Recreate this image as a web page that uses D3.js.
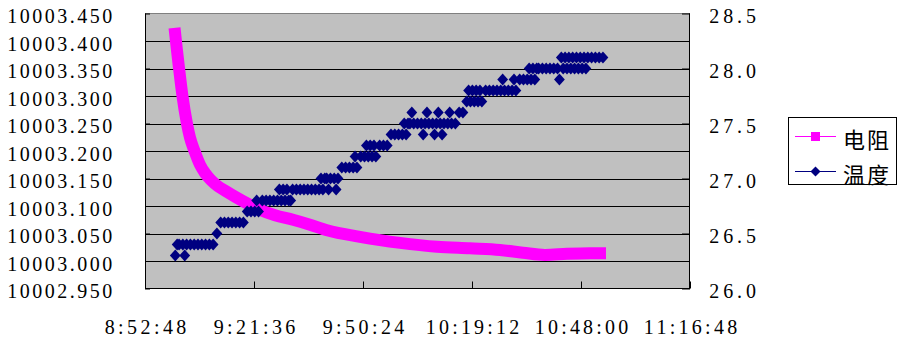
<!DOCTYPE html>
<html><head><meta charset="utf-8">
<script src="https://cdn.jsdelivr.net/npm/d3@7"></script>
<style>body{margin:0;background:#fff}svg{display:block}
.num{font-family:"Liberation Serif","Times New Roman","DejaVu Serif",serif;font-size:20px}
.cjk{font-family:"Noto Sans CJK SC","Noto Sans CJK JP",sans-serif;font-size:22px}
</style>
</head><body><svg id="c" width="898" height="352"></svg>
<script>
// ---- data ----
const xTickLabels = ["8:52:48","9:21:36","9:50:24","10:19:12","10:48:00","11:16:48"];
const leftTickValues = [10002.95,10003.00,10003.05,10003.10,10003.15,10003.20,10003.25,10003.30,10003.35,10003.40,10003.45];
const rightTickValues = [26.0,26.5,27.0,27.5,28.0,28.5];
const seriesNames = ["电阻","温度"];

const resistancePoints = [
  ["9:00:36",10003.424],["9:01:14",10003.384],["9:01:47",10003.351],["9:02:42",10003.300],
  ["9:03:51",10003.251],["9:04:42",10003.224],["9:05:53",10003.200],["9:07:20",10003.175],
  ["9:08:39",10003.160],["9:10:14",10003.147],["9:12:05",10003.136],["9:13:56",10003.128],
  ["9:16:51",10003.116],["9:20:33",10003.102],["9:23:11",10003.093],["9:27:09",10003.083],
  ["9:31:54",10003.075],["9:36:24",10003.066],["9:40:53",10003.056],["9:49:36",10003.044],
  ["9:54:54",10003.038],["10:00:11",10003.033],["10:09:57",10003.026],["10:18:40",10003.023],
  ["10:26:36",10003.020],["10:32:40",10003.015],["10:38:29",10003.011],["10:44:18",10003.013],
  ["10:50:23",10003.014],["10:54:36",10003.014]
];

const temperaturePoints = [
  ["9:00:48",26.3],["9:01:18",26.4],["9:01:48",26.4],["9:02:48",26.4],["9:03:18",26.3],["9:03:48",26.4],
  ["9:04:48",26.4],["9:05:48",26.4],["9:06:48",26.4],["9:07:48",26.4],["9:08:48",26.4],["9:09:48",26.4],
  ["9:10:48",26.4],["9:11:48",26.5],["9:12:48",26.6],["9:13:48",26.6],["9:14:48",26.6],["9:15:48",26.6],
  ["9:16:48",26.6],["9:17:48",26.6],["9:18:48",26.6],["9:19:48",26.7],["9:20:48",26.7],["9:21:48",26.7],
  ["9:22:18",26.8],["9:22:48",26.7],["9:23:48",26.8],["9:24:48",26.8],["9:25:48",26.8],["9:26:48",26.8],
  ["9:27:48",26.8],["9:28:18",26.9],["9:28:48",26.8],["9:29:18",26.9],["9:29:48",26.8],["9:30:18",26.9],
  ["9:30:48",26.8],["9:31:18",26.8],["9:31:48",26.9],["9:32:48",26.9],["9:33:48",26.9],["9:34:48",26.9],
  ["9:35:48",26.9],["9:36:48",26.9],["9:37:48",26.9],["9:38:48",26.9],["9:39:18",27.0],["9:39:48",26.9],
  ["9:40:18",27.0],["9:40:48",27.0],["9:41:18",26.9],["9:41:48",27.0],["9:42:48",27.0],["9:43:18",26.9],
  ["9:43:48",27.0],["9:44:48",27.1],["9:45:48",27.1],["9:46:48",27.1],["9:47:48",27.1],["9:48:18",27.2],
  ["9:48:48",27.1],["9:49:48",27.2],["9:50:48",27.2],["9:51:18",27.3],["9:51:48",27.2],["9:52:18",27.3],
  ["9:52:48",27.2],["9:53:18",27.3],["9:53:48",27.2],["9:54:48",27.3],["9:55:48",27.3],["9:56:48",27.3],
  ["9:57:48",27.4],["9:58:48",27.4],["9:59:48",27.4],["10:00:48",27.4],["10:01:18",27.5],["10:01:48",27.4],
  ["10:02:18",27.5],["10:02:48",27.5],["10:03:18",27.6],["10:03:48",27.5],["10:04:48",27.5],["10:05:48",27.5],
  ["10:06:18",27.4],["10:06:48",27.5],["10:07:18",27.6],["10:07:48",27.5],["10:08:48",27.5],["10:09:18",27.4],
  ["10:09:48",27.5],["10:10:18",27.6],["10:10:48",27.5],["10:11:18",27.4],["10:11:48",27.5],["10:12:48",27.5],
  ["10:13:18",27.6],["10:13:48",27.5],["10:14:48",27.5],["10:15:48",27.6],["10:16:48",27.6],["10:17:48",27.7],
  ["10:18:18",27.8],["10:18:48",27.7],["10:19:18",27.8],["10:19:48",27.7],["10:20:18",27.8],["10:20:48",27.7],
  ["10:21:18",27.8],["10:21:48",27.7],["10:22:48",27.8],["10:23:48",27.8],["10:24:48",27.8],["10:25:48",27.8],
  ["10:26:48",27.8],["10:27:18",27.9],["10:27:48",27.8],["10:28:48",27.8],["10:29:48",27.8],["10:30:18",27.9],
  ["10:30:48",27.8],["10:31:48",27.9],["10:32:48",27.9],["10:33:48",27.9],["10:34:18",28.0],["10:34:48",27.9],
  ["10:35:18",28.0],["10:35:48",27.9],["10:36:18",28.0],["10:36:48",28.0],["10:37:48",28.0],["10:38:48",28.0],
  ["10:39:48",28.0],["10:40:48",28.0],["10:41:48",28.0],["10:42:18",27.9],["10:42:48",28.1],["10:43:18",28.0],
  ["10:43:48",28.1],["10:44:18",28.0],["10:44:48",28.1],["10:45:18",28.0],["10:45:48",28.1],["10:46:18",28.0],
  ["10:46:48",28.1],["10:47:18",28.0],["10:47:48",28.1],["10:48:18",28.0],["10:48:48",28.1],["10:49:18",28.0],
  ["10:49:48",28.1],["10:50:48",28.1],["10:51:48",28.1],["10:52:48",28.1],["10:53:48",28.1]
];

// ---- layout ----
const L = 145, R = 690, T = 13.5, B = 288.5;
const MAGENTA = "#FF00FF", NAVY = "#000080";
const charW = 11.67;

const parse = d3.timeParse("%H:%M:%S");
const xTicks = xTickLabels.map(parse);
const x = d3.scaleTime().domain([xTicks[0], xTicks[xTicks.length-1]]).range([L, R]);
const yL = d3.scaleLinear().domain([leftTickValues[0], leftTickValues[leftTickValues.length-1]]).range([B, T]);
const yR = d3.scaleLinear().domain([rightTickValues[0], rightTickValues[rightTickValues.length-1]]).range([B, T]);

const svg = d3.select("#c");
svg.append("rect").attr("width",898).attr("height",352).attr("fill","#fff");

// plot area
svg.append("rect").attr("x",L).attr("y",T).attr("width",R-L).attr("height",B-T).attr("fill","#C0C0C0");

// gridlines
svg.append("g").selectAll("line").data(leftTickValues.slice(1,-1)).join("line")
  .attr("x1",L).attr("x2",R).attr("y1",d=>Math.round(yL(d))+0.5).attr("y2",d=>Math.round(yL(d))+0.5)
  .attr("stroke","#000").attr("stroke-width",1);

// border top
svg.append("line").attr("x1",L).attr("x2",R).attr("y1",T).attr("y2",T).attr("stroke","#808080");

// resistance series (dense square markers form a thick band)
const plot = svg.append("g");
const resLine = d3.line().x(d=>x(parse(d[0]))).y(d=>yL(d[1])).curve(d3.curveMonotoneX);
plot.append("path").attr("d",resLine(resistancePoints))
  .attr("fill","none").attr("stroke",MAGENTA).attr("stroke-width",12)
  .attr("stroke-linejoin","round").attr("stroke-linecap","butt");

// temperature series (diamond markers)
const diamond = "M0,-6L5.4,0L0,6L-5.4,0Z";
plot.append("g").selectAll("path").data(temperaturePoints).join("path")
  .attr("d",diamond)
  .attr("transform",d=>`translate(${x(parse(d[0]))},${yR(d[1])})`)
  .attr("fill",NAVY);

// axes
function styleText(sel){
  sel.attr("font-family",null).attr("font-size",null);
  sel.selectAll("text")
    .attr("class","num").attr("fill","#000")
    .style("font-family",'"Liberation Serif"')
    .attr("textLength",function(){return this.textContent.length*charW;})
    .attr("lengthAdjust","spacing");
}
const axL = svg.append("g").attr("transform",`translate(${L},0)`)
  .call(d3.axisLeft(yL).tickValues(leftTickValues).tickFormat(d3.format(".3f")).tickSize(-5).tickPadding(32.7));
axL.select(".domain").remove();
axL.selectAll("text").attr("dy",9.3);
styleText(axL);

const axR = svg.append("g").attr("transform",`translate(${R},0)`)
  .call(d3.axisRight(yR).tickValues(rightTickValues).tickFormat(d3.format(".1f")).tickSize(-8).tickPadding(19.3));
axR.select(".domain").remove();
axR.selectAll("text").attr("dy",9.3);
styleText(axR);

const axB = svg.append("g").attr("transform",`translate(0,${B})`)
  .call(d3.axisBottom(x).tickValues(xTicks).tickFormat(d3.timeFormat("%-H:%M:%S")).tickSize(-7).tickPadding(0));
axB.select(".domain").remove();
axB.selectAll("text").attr("y",45.5).attr("dy",0);
styleText(axB);
svg.selectAll(".tick line").attr("stroke","#000");

// axis lines
svg.append("line").attr("x1",L+0.5).attr("x2",L+0.5).attr("y1",T).attr("y2",B+0.5).attr("stroke","#000");
svg.append("line").attr("x1",R-0.5).attr("x2",R-0.5).attr("y1",T).attr("y2",B+0.5).attr("stroke","#000");
svg.append("line").attr("x1",L).attr("x2",R).attr("y1",B).attr("y2",B).attr("stroke","#000");

// legend
const lg = svg.append("g");
lg.append("rect").attr("x",788.5).attr("y",117.5).attr("width",108).attr("height",67)
  .attr("fill","#fff").attr("stroke","#000");
const legendRows = [
  {name:seriesNames[0], color:MAGENTA, y:136.5, shape:"M-4.5,-4.5h9v9h-9Z"},
  {name:seriesNames[1], color:NAVY, y:171.5, shape:"M0,-5L5,0L0,5L-5,0Z"}
];
legendRows.forEach(r=>{
  lg.append("line").attr("x1",795).attr("x2",836).attr("y1",r.y).attr("y2",r.y).attr("stroke",r.color);
  lg.append("path").attr("d",r.shape).attr("transform",`translate(815.5,${r.y})`).attr("fill",r.color);
  lg.append("text").attr("class","cjk").attr("x",843).attr("y",r.y+1).attr("dominant-baseline","central")
    .attr("fill","#000").attr("textLength",46).attr("lengthAdjust","spacing").text(r.name);
});
</script></body></html>
